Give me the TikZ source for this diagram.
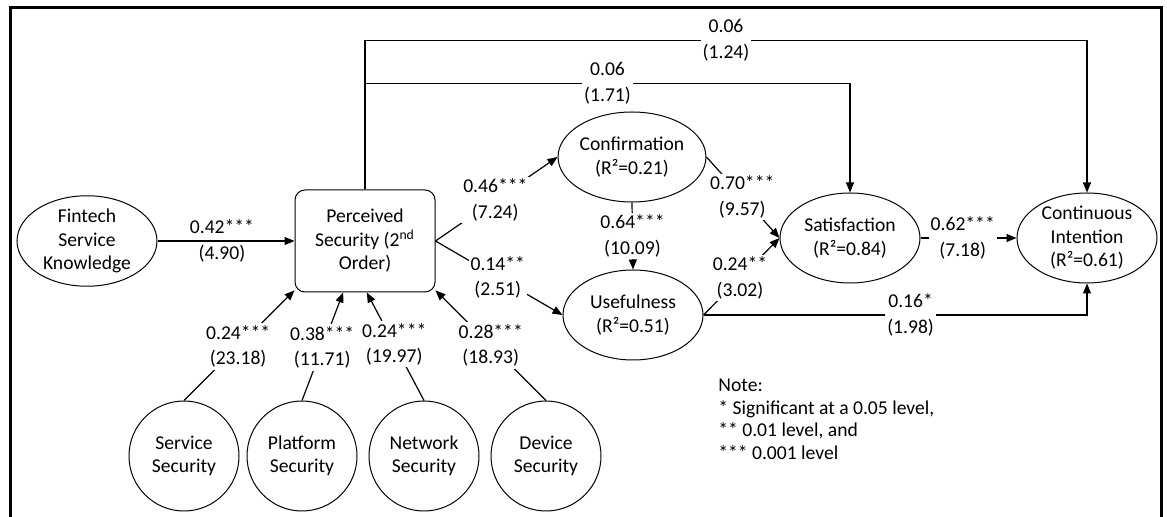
\documentclass[tikz,border=0pt]{standalone}
\usepackage{fontspec}
\setmainfont{Carlito}
\usetikzlibrary{shapes.geometric}
\usetikzlibrary{arrows, arrows.meta}

\begin{document}
\begin{tikzpicture}[x=0.5pt, y=-0.5pt, font=\fontsize{9.8}{11.75}\selectfont]

\useasboundingbox (0,0) rectangle (1167,517);

% frame

\draw [line width=1.5pt] (10,517) -- (10,8) -- (1161,8) -- (1161,517);

% constructs

\tikzstyle{construct} = [ellipse, draw, line width=0.5pt, minimum width=70pt, minimum height=45pt, inner sep=0pt, align=center]
\tikzstyle{dimension} = [circle, draw, line width=0.5pt, minimum size=55pt, inner sep=0pt, align=center]
\tikzstyle{second order} = [rectangle, rounded corners=5pt, draw, line width=0.5pt, minimum width=70pt, minimum height=51pt, align=center]

\node [construct] (fsk) at (87,241) {Fintech\\Service\\Knowledge};
\node [second order] (ps) at (365,241) {Perceived\\Security (2\textsuperscript{nd}\\Order)};
\node [construct] (conf) at (632,157) {Confirmation\\(R²=0.21)};
\node [construct] (use) at (633,315) {Usefulness\\(R²=0.51)};
\node [construct] (sat) at (850,238) {Satisfaction\\(R²=0.84)};
\node [construct] (ci) at (1087,238) {Continuous\\Intention\\(R²=0.61)};

\node [dimension] (ss) at (184,456) {Service\\Security};
\node [dimension] (pls) at (302,456) {Platform\\Security};
\node [dimension] (ns) at (424,456) {Network\\Security};
\node [dimension] (ds) at (546,456) {Device\\Security};

% paths

\tikzstyle{path line} = [line width=0.6pt, -{Triangle[length=5pt, width=4pt]}]
\tikzstyle{coef} = [fill=white, inner sep=1pt, align=center, font=\fontsize{9.8}{12.8}\selectfont]

\draw [path line] (fsk.east) -- (ps.west)
	node [coef, fill=none, pos=0.47] {0.42***\\(4.90)} ;

\draw [path line] (ps.east) -- (conf.west)
	node [coef, pos=0.49] {0.46***\\(7.24)} ;

\draw [path line] (ps.east) -- (use.west)
	node [coef, pos=0.49] {0.14**\\(2.51)} ;

\draw [path line] (conf.south) -- (use.north)
	node [coef, pos=0.5] {0.64***\\(10.09)} ;

\draw [path line] (conf.east) -- (sat.west)
	node [coef, pos=0.49] {0.70***\\(9.57)} ;

\draw [path line] (use.east) -- (sat.west)
	node [coef, pos=0.48] {0.24**\\(3.02)} ;

\draw [path line] (sat.east) -- (ci.west)
	node [coef, pos=0.44] {0.62***\\(7.18)} ;

\draw [path line] (use.east) -| (ci.south)
	node [coef, pos=0.27] {0.16*\\(1.98)} ;

% direct effects of perceived security

\draw [path line] (ps.north) -- ++(0,-149) -|
	node [coef, pos=0.25] {0.06\\(1.24)} (ci.north) ;

\draw [path line] (ps.north) -- ++(0,-106) -|
	node [coef, pos=0.25] {0.06\\(1.71)} (sat.north) ;

% second order dimensions

\draw [path line] (ss.north) -- (ps.215)
	node [coef, pos=0.49] {0.24***\\(23.18)} ;

\draw [path line] (pls.north) -- (ps.247)
	node [coef, pos=0.49] {0.38***\\(11.71)} ;

\draw [path line] (ns.north) -- (ps.272)
	node [coef, pos=0.52] {0.24***\\(19.97)} ;

\draw [path line] (ds.north) -- (ps.325)
	node [coef, pos=0.5] {0.28***\\(18.93)} ;

% note

\node [anchor=north west, align=left, inner sep=0pt, font=\fontsize{9.8}{11.25}\selectfont] (note) at (718,379)
	{Note:\\* Significant at a 0.05 level,\\** 0.01 level, and\\*** 0.001 level};

\end{tikzpicture}
\end{document}
